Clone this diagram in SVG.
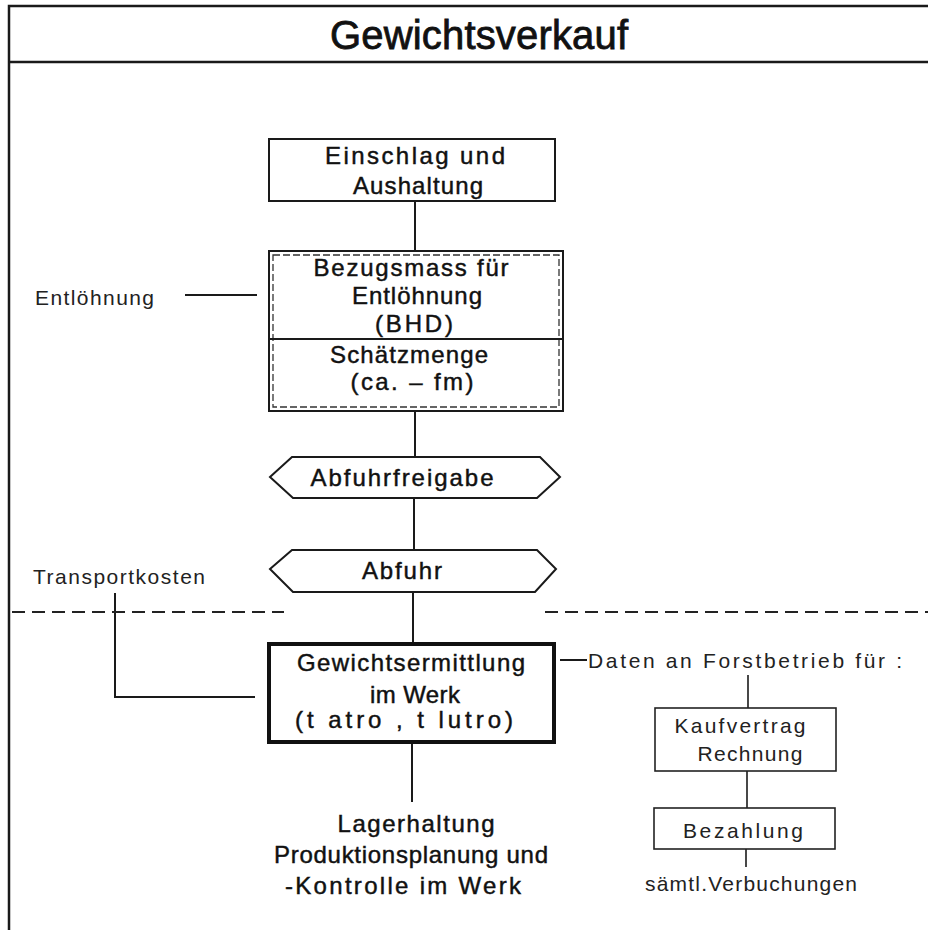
<svg xmlns="http://www.w3.org/2000/svg" width="928" height="930" viewBox="0 0 928 930">
  <style>
    .frame { fill: none; stroke: #1a1a1a; stroke-width: 2.5; }
    .box { fill: #ffffff; stroke: #1a1a1a; stroke-width: 2; }
    .thick { fill: #ffffff; stroke: #111111; stroke-width: 4; }
    .thin { fill: #ffffff; stroke: #222222; stroke-width: 1.6; }
    .dash { fill: none; stroke: #333333; stroke-width: 1.3; stroke-dasharray: 7 3; }
    .line { fill: none; stroke: #1a1a1a; stroke-width: 2; }
    .sep { fill: none; stroke: #222222; stroke-width: 1.8; stroke-dasharray: 13 7; }
    text { font-family: "Liberation Sans", Arial, sans-serif; fill: #111111; }
    .t { font-size: 24px; text-anchor: middle; stroke: #111111; stroke-width: 0.45; }
    .s { font-size: 21px; fill: #222222; }
    .sm { font-size: 21px; fill: #222222; text-anchor: middle; }
    .title { font-size: 40px; text-anchor: middle; stroke: #111111; stroke-width: 0.8; }
  </style>

  <!-- outer frame with header -->
  <g id="frame">
    <path class="frame" d="M9,930 V6 H928 M9,62 H928"/>
    <text class="title" x="479" y="49" textLength="298" lengthAdjust="spacing">Gewichtsverkauf</text>
  </g>

  <!-- connectors -->
  <g id="connectors">
    <path class="line" d="M415,201 V251"/>
    <path class="line" d="M415,411 V457"/>
    <path class="line" d="M414,498 V550"/>
    <path class="line" d="M413,592 V643"/>
    <path class="line" d="M412,743 V802"/>
    <path class="line" d="M185,295 H257"/>
    <path class="line" d="M115,593 V697 H255"/>
    <path class="line" d="M560,660 H587"/>
    <path class="line" style="stroke-width:1.6" d="M748,675 V708"/>
    <path class="line" style="stroke-width:1.6" d="M747,771 V808"/>
    <path class="line" style="stroke-width:1.6" d="M746,849 V867"/>
    <path class="sep" d="M12,612 H284"/>
    <path class="sep" d="M545,612 H928"/>
  </g>

  <g id="einschlag">
    <rect class="box" x="269" y="139" width="286" height="62"/>
    <text class="t" x="415" y="164" textLength="180" lengthAdjust="spacing">Einschlag  und</text>
    <text class="t" x="418" y="194" textLength="130" lengthAdjust="spacing">Aushaltung</text>
  </g>

  <g id="bezugsmass">
    <rect class="box" x="269" y="251" width="294" height="160"/>
    <rect class="dash" x="273" y="255" width="286" height="152"/>
    <path class="line" d="M270,339 H562"/>
    <text class="t" x="411" y="276" textLength="195" lengthAdjust="spacing">Bezugsmass  für</text>
    <text class="t" x="417" y="304" textLength="130" lengthAdjust="spacing">Entlöhnung</text>
    <text class="t" x="414" y="332" textLength="78" lengthAdjust="spacing">(BHD)</text>
    <text class="t" x="409" y="363" textLength="158" lengthAdjust="spacing">Schätzmenge</text>
    <text class="t" x="412" y="390" textLength="123" lengthAdjust="spacing">(ca. – fm)</text>
  </g>

  <g id="entloehnung">
    <text class="s" x="35" y="305" textLength="119" lengthAdjust="spacing">Entlöhnung</text>
  </g>

  <g id="abfuhrfreigabe">
    <polygon class="box" points="270,477 292,457 540,457 560,477 537,498 293,498"/>
    <text class="t" x="402" y="486" textLength="183" lengthAdjust="spacing">Abfuhrfreigabe</text>
  </g>

  <g id="abfuhr">
    <polygon class="box" points="270,569 292,550 537,550 556,569 535,592 293,592"/>
    <text class="t" x="402" y="579" textLength="80" lengthAdjust="spacing">Abfuhr</text>
  </g>

  <g id="transportkosten">
    <text class="s" x="33" y="584" textLength="172" lengthAdjust="spacing">Transportkosten</text>
  </g>

  <g id="gewichtsermittlung">
    <rect class="thick" x="269" y="644" width="285" height="98"/>
    <text class="t" x="411" y="671" textLength="228" lengthAdjust="spacing">Gewichtsermittlung</text>
    <text class="t" x="415" y="703" textLength="90" lengthAdjust="spacing">im Werk</text>
    <text class="t" x="404" y="728" textLength="218" lengthAdjust="spacing">(t atro , t lutro)</text>
  </g>

  <g id="daten">
    <text class="s" x="588" y="668" textLength="314" lengthAdjust="spacing">Daten  an  Forstbetrieb  für  :</text>
  </g>

  <g id="kaufvertrag">
    <rect class="thin" x="655" y="708" width="181" height="63"/>
    <text class="sm" x="740" y="733" textLength="131" lengthAdjust="spacing">Kaufvertrag</text>
    <text class="sm" x="750" y="761" textLength="105" lengthAdjust="spacing">Rechnung</text>
  </g>

  <g id="bezahlung">
    <rect class="thin" x="654" y="808" width="181" height="41"/>
    <text class="sm" x="743" y="838" textLength="120" lengthAdjust="spacing">Bezahlung</text>
  </g>

  <g id="verbuchungen">
    <text class="sm" x="751" y="891" textLength="212" lengthAdjust="spacing">sämtl.Verbuchungen</text>
  </g>

  <g id="lagerhaltung">
    <text class="t" x="416" y="832" textLength="157" lengthAdjust="spacing">Lagerhaltung</text>
    <text class="t" x="411" y="863" textLength="274" lengthAdjust="spacing">Produktionsplanung  und</text>
    <text class="t" x="403" y="894" textLength="236" lengthAdjust="spacing">-Kontrolle  im  Werk</text>
  </g>
</svg>
